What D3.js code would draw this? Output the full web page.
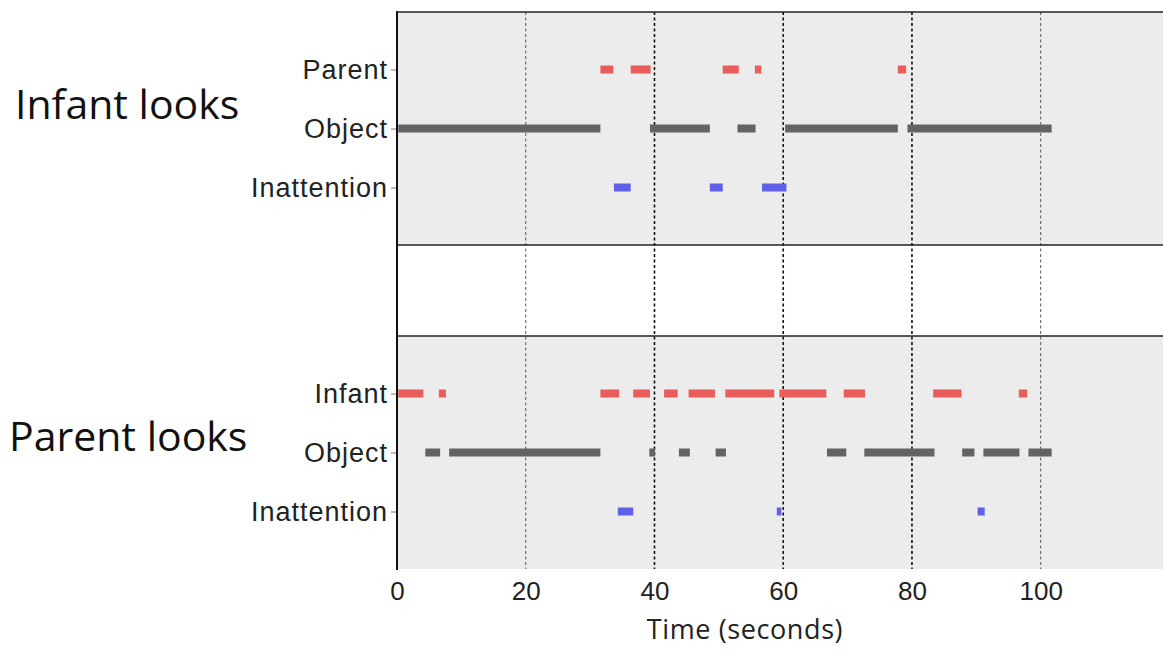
<!DOCTYPE html>
<html>
<head>
<meta charset="utf-8">
<script src="https://cdn.jsdelivr.net/npm/d3@7"></script>
<style>
  body { margin: 0; background: #fff; }
  svg { font-family: "Open Sans", Lato, sans-serif; }
</style>
</head>
<body>
<script>
// look categories per panel
const infantRows = ['Parent', 'Object', 'Inattention'];
const parentRows = ['Infant', 'Object', 'Inattention'];

// look segments [start, end] in seconds
const infantParent = [[31.6, 33.6], [36.3, 39.4], [50.6, 53.1], [55.6, 56.6], [77.8, 79.1]];
const infantObject = [[0.2, 31.6], [39.3, 48.6], [52.9, 55.7], [60.3, 77.8], [79.3, 101.7]];
const infantInatt  = [[33.7, 36.3], [48.6, 50.6], [56.7, 60.5]];

const parentInfant = [[0.2, 4.1], [6.5, 7.6], [31.6, 34.5], [36.7, 39.3], [41.5, 43.6], [45.3, 49.4],
                      [51.0, 58.6], [59.4, 66.7], [69.4, 72.7], [83.3, 87.7], [96.6, 97.9]];
const parentObject = [[4.4, 6.7], [8.1, 31.6], [39.2, 40.1], [43.8, 45.5], [49.5, 51.1], [66.8, 69.8],
                      [72.6, 83.5], [87.8, 89.7], [91.1, 96.7], [98.1, 101.7]];
const parentInatt  = [[34.3, 36.7], [59.0, 59.7], [90.2, 91.3]];

const xTicks = [0, 20, 40, 60, 80, 100];
const gridLines = [20, 40, 60, 80, 100];
const rowColors = ['#e85c5c', '#636363', '#5f5fe8'];

const width = 1163, height = 650;
const svg = d3.select('body').append('svg')
    .attr('width', width)
    .attr('height', height);

const x = d3.scaleLinear().domain([0, 119]).range([397, 1163]);

const panels = [
    {title: 'Infant looks', rows: infantRows, segs: [infantParent, infantObject, infantInatt], top: 12, bottom: 245, titleX: 15, titleY: 108},
    {title: 'Parent looks', rows: parentRows, segs: [parentInfant, parentObject, parentInatt], top: 336, bottom: 569, titleX: 9, titleY: 440}
];

panels.forEach(p => {
    // panel background
    svg.append('rect')
        .attr('x', x(0)).attr('y', p.top)
        .attr('width', x(119) - x(0)).attr('height', p.bottom - p.top)
        .attr('fill', '#ececec');

    p.y = d3.scalePoint().domain(p.rows).range([p.top + 57.5, p.top + 175.5]);
});

// dashed grid lines spanning both panels
svg.append('g').selectAll('line')
    .data(gridLines)
    .join('line')
    .attr('x1', d => x(d)).attr('x2', d => x(d))
    .attr('y1', 12).attr('y2', 569)
    .attr('stroke', d => (d === 20 || d === 100) ? '#555' : '#111')
    .attr('stroke-width', d => (d === 20 || d === 100) ? 1 : 1.6)
    .attr('stroke-dasharray', '3,2.5');

panels.forEach(p => {
    const g = svg.append('g');

    p.rows.forEach((row, i) => {
        g.append('g').selectAll('rect')
            .data(p.segs[i])
            .join('rect')
            .attr('x', d => x(d[0]))
            .attr('width', d => x(d[1]) - x(d[0]))
            .attr('y', p.y(row) - 4)
            .attr('height', 8)
            .attr('fill', rowColors[i]);
    });

    // row labels
    const ax = svg.append('g')
        .attr('transform', 'translate(' + x(0) + ',0)')
        .call(d3.axisLeft(p.y).tickSize(6).tickPadding(3));
    ax.select('.domain').remove();
    ax.selectAll('.tick line').attr('stroke', '#777');
    ax.selectAll('.tick text')
        .attr('fill', '#222')
        .style('font-size', '27px')
        .style('letter-spacing', '1px');

    // panel title
    svg.append('text')
        .attr('x', p.titleX)
        .attr('y', p.titleY)
        .attr('dominant-baseline', 'middle')
        .attr('fill', '#111')
        .style('font-size', '41px')
        .text(p.title);
});

// panel borders
svg.append('line')
    .attr('x1', x(0)).attr('x2', x(119)).attr('y1', 12).attr('y2', 12)
    .attr('stroke', '#222').attr('stroke-width', 1.5);
svg.append('line')
    .attr('x1', x(0)).attr('x2', x(119)).attr('y1', 245).attr('y2', 245)
    .attr('stroke', '#222').attr('stroke-width', 1.5);
svg.append('line')
    .attr('x1', x(0)).attr('x2', x(119)).attr('y1', 336).attr('y2', 336)
    .attr('stroke', '#222').attr('stroke-width', 1.5);
svg.append('line')
    .attr('x1', x(0)).attr('x2', x(0)).attr('y1', 11).attr('y2', 570)
    .attr('stroke', '#111').attr('stroke-width', 2);

// time axis
const xAxis = svg.append('g')
    .attr('transform', 'translate(0,569)')
    .call(d3.axisBottom(x).tickValues(xTicks).tickSize(0).tickPadding(13));
xAxis.select('.domain').remove();
xAxis.selectAll('.tick text')
    .attr('fill', '#222')
    .style('font-size', '26px');

svg.append('text')
    .attr('x', 745)
    .attr('y', 632)
    .attr('text-anchor', 'middle')
    .attr('dominant-baseline', 'middle')
    .attr('fill', '#222')
    .style('font-size', '27px')
    .style('letter-spacing', '0.6px')
    .text('Time (seconds)');
</script>
</body>
</html>
